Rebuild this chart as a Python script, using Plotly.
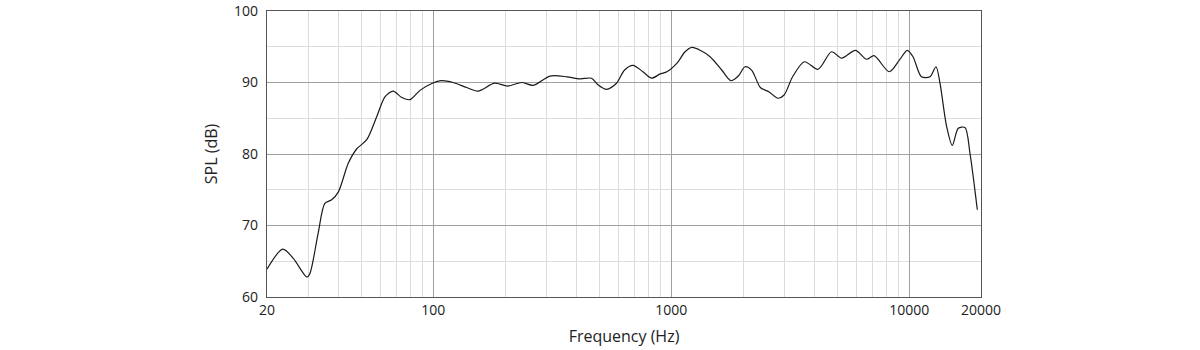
import plotly.graph_objects as go

freq_hz = [20, 23.3, 25.8, 29.4, 30.3, 32.8, 35.0, 37.4, 39.9, 43.9, 47.6, 52.5, 57.8, 62.6,
           67.8, 73.7, 79.8, 87.9, 99, 108, 121, 138, 154, 181, 205, 235, 263, 309, 364,
           413, 462, 493, 534, 588, 636, 690, 760, 826, 898, 958, 1056, 1142, 1220, 1322,
           1454, 1628, 1778, 1912, 2040, 2177, 2366, 2568, 2806, 2977, 3232, 3624, 4134,
           4708, 5196, 5932, 6612, 7108, 8236, 9090, 9800, 10360, 11240, 12200, 12940,
           13450, 14350, 15150, 16050, 17130, 17980, 19300]
spl_db = [63.9, 66.7, 65.4, 62.8, 63.3, 68.9, 73.1, 73.6, 74.7, 78.7, 80.7, 82.0, 85.2, 88.0,
          88.8, 87.9, 87.6, 88.9, 89.9, 90.25, 90.0, 89.3, 88.8, 89.9, 89.5, 90.0, 89.6, 90.9,
          90.8, 90.5, 90.6, 89.65, 89.05, 89.9, 91.75, 92.4, 91.5, 90.6, 91.2, 91.5, 92.7,
          94.3, 94.9, 94.5, 93.6, 91.75, 90.25, 90.9, 92.2, 91.7, 89.3, 88.7, 87.8, 88.25,
          90.8, 92.9, 91.85, 94.3, 93.4, 94.5, 93.25, 93.75, 91.5, 93.15, 94.5, 93.6, 90.8,
          90.8, 92.2, 89.9, 83.8, 81.2, 83.6, 83.7, 80.1, 72.2]

x_tick_vals = [20, 100, 1000, 10000, 20000]
x_tick_text = ["20", "100", "1000", "10000", "20000"]
x_minor_vals = [30, 40, 50, 60, 70, 80, 90,
                200, 300, 400, 500, 600, 700, 800, 900,
                2000, 3000, 4000, 5000, 6000, 7000, 8000, 9000]
y_tick_vals = [60, 70, 80, 90, 100]

FONT = "Open Sans, Liberation Sans, sans-serif"

fig = go.Figure()
fig.add_trace(go.Scatter(
    x=freq_hz, y=spl_db, mode="lines",
    line=dict(color="#1a1a1a", width=1.2, shape="spline", smoothing=0.8),
    hoverinfo="skip", showlegend=False,
))

fig.update_layout(
    width=1200, height=350,
    margin=dict(l=267, r=219, t=11, b=53, autoexpand=False),
    paper_bgcolor="white", plot_bgcolor="white",
    font=dict(family=FONT, size=14, color="#222"),
    xaxis=dict(
        type="log", range=[1.30103, 4.30103], automargin=False,
        tickmode="array", tickvals=x_tick_vals, ticktext=x_tick_text,
        showgrid=True, gridcolor="#a0a0a0", gridwidth=1,
        minor=dict(tickmode="array", tickvals=x_minor_vals, showgrid=True,
                   gridcolor="#dcdcdc", gridwidth=1, ticks=""),
        showline=True, linecolor="#555", linewidth=1.2, mirror=True,
        zeroline=False, ticks="",
        title=dict(text="Frequency (Hz)", font=dict(size=16, family=FONT), standoff=12),
    ),
    yaxis=dict(
        range=[60, 100], automargin=False,
        tickmode="array", tickvals=y_tick_vals, ticklabelstandoff=5,
        showgrid=True, gridcolor="#a0a0a0", gridwidth=1,
        minor=dict(dtick=5, showgrid=True, gridcolor="#dcdcdc", gridwidth=1, ticks=""),
        showline=True, linecolor="#555", linewidth=1.2, mirror=True,
        zeroline=False, ticks="",
        title=dict(text="SPL (dB)", font=dict(size=16, family=FONT), standoff=12),
    ),
)

fig.write_html("out.html", config={"displayModeBar": False},
               post_script="document.body.style.margin='0';")
